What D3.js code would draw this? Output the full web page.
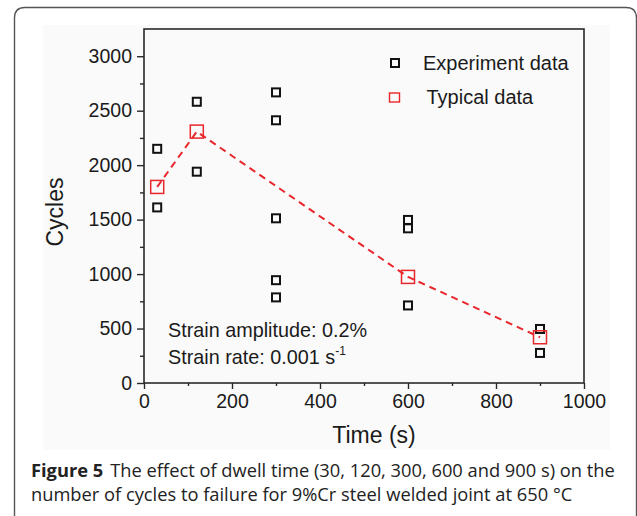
<!DOCTYPE html>
<html><head><meta charset="utf-8">
<script src="https://cdn.jsdelivr.net/npm/d3@7/dist/d3.min.js"></script>
<style>
html,body{margin:0;padding:0;background:#fff;}
svg{display:block;}
</style></head>
<body>
<script>
// ---- data ----
const expTime   = [30, 30, 120, 120, 300, 300, 300, 300, 300, 600, 600, 600, 900, 900];
const expCycles = [2150, 1612, 2582, 1940, 2668, 2412, 1512, 944, 786, 1497, 1420, 712, 496, 276];
const typTime   = [30, 120, 600, 900];
const typCycles = [1800, 2308, 974, 420];
const xTicks = [0, 200, 400, 600, 800, 1000];
const yTicks = [0, 500, 1000, 1500, 2000, 2500, 3000];
const legendLabels = ["Experiment data", "Typical data"];

const W = 637, H = 516;
const svg = d3.select("body").append("svg").attr("width", W).attr("height", H);

// card
svg.append("path")
  .attr("d", "M14.5,530 L14.5,18 Q14.5,7.5 25,7.5 L626,7.5 Q636.5,7.5 636.5,18 L636.5,530")
  .attr("fill", "none").attr("stroke", "#555").attr("stroke-width", 1.4);
// chart image background
svg.append("rect").attr("x", 43).attr("y", 25).attr("width", 567).attr("height", 425).attr("fill", "#fafafa");

const x = d3.scaleLinear().domain([0, 1000]).range([144, 584]);
const y = d3.scaleLinear().domain([0, 3250]).range([383, 29]);

const font = "Liberation Sans, Arial, sans-serif";
const axisColor = "#2a2a2a";

// minor ticks
const xMinor = d3.range(100, 1000, 200);
const yMinor = d3.range(250, 3250, 500);

const gx = svg.append("g").attr("transform", "translate(0,383)")
  .call(d3.axisBottom(x).tickValues(xTicks).tickSize(6).tickPadding(4).tickFormat(d3.format("d")));
const gxm = svg.append("g").attr("transform", "translate(0,383)")
  .call(d3.axisBottom(x).tickValues(xMinor).tickSize(3).tickFormat(""));
const gy = svg.append("g").attr("transform", "translate(144,0)")
  .call(d3.axisLeft(y).tickValues(yTicks).tickSize(7).tickPadding(5).tickFormat(d3.format("d")));
const gym = svg.append("g").attr("transform", "translate(144,0)")
  .call(d3.axisLeft(y).tickValues(yMinor).tickSize(4).tickFormat(""));
[gx, gxm, gy, gym].forEach(g => {
  g.select(".domain").remove();
  g.selectAll("line").attr("stroke", axisColor).attr("stroke-width", 1.4);
  g.selectAll("text").attr("font-family", font).attr("font-size", 19.5).attr("fill", "#1a1a1a");
});
gx.selectAll("text").attr("dy", "0.78em");

// frame
svg.append("rect").attr("x", 144).attr("y", 29).attr("width", 440).attr("height", 354)
  .attr("fill", "none").attr("stroke", axisColor).attr("stroke-width", 1.6);

// axis titles
svg.append("text").attr("x", 374).attr("y", 443).attr("text-anchor", "middle")
  .attr("font-family", font).attr("font-size", 23).attr("fill", "#1a1a1a").text("Time (s)");
svg.append("text").attr("transform", "translate(63,212) rotate(-90)").attr("text-anchor", "middle")
  .attr("font-family", font).attr("font-size", 23).attr("fill", "#1a1a1a").text("Cycles");

// typical line
const red = "#e8262b";
const typ = typTime.map((t, i) => [t, typCycles[i]]);
svg.append("path").datum(typ)
  .attr("d", d3.line().x(d => x(d[0])).y(d => y(d[1])))
  .attr("fill", "none").attr("stroke", red).attr("stroke-width", 2).attr("stroke-dasharray", "7,5");

// experiment markers
const exp = expTime.map((t, i) => [t, expCycles[i]]);
const es = 8;
svg.append("g").selectAll("rect").data(exp).join("rect")
  .attr("x", d => x(d[0]) - es / 2).attr("y", d => y(d[1]) - es / 2)
  .attr("width", es).attr("height", es)
  .attr("fill", "none").attr("stroke", "#111").attr("stroke-width", 2);

// typical markers
const ts = 13;
svg.append("g").selectAll("rect").data(typ).join("rect")
  .attr("x", d => x(d[0]) - ts / 2).attr("y", d => y(d[1]) - ts / 2)
  .attr("width", ts).attr("height", ts)
  .attr("fill", "none").attr("stroke", red).attr("stroke-width", 1.5);

// legend
svg.append("rect").attr("x", 391).attr("y", 59).attr("width", 8).attr("height", 8)
  .attr("fill", "none").attr("stroke", "#111").attr("stroke-width", 2);
svg.append("text").attr("x", 423).attr("y", 70).attr("font-family", font).attr("font-size", 20)
  .attr("fill", "#1a1a1a").text(legendLabels[0]);
svg.append("rect").attr("x", 389.5).attr("y", 93).attr("width", 10).attr("height", 9)
  .attr("fill", "none").attr("stroke", red).attr("stroke-width", 1.4);
svg.append("text").attr("x", 426.5).attr("y", 104).attr("font-family", font).attr("font-size", 20)
  .attr("fill", "#1a1a1a").text(legendLabels[1]);

// annotation
svg.append("text").attr("x", 168).attr("y", 337).attr("font-family", font).attr("font-size", 19.8)
  .attr("fill", "#1a1a1a").text("Strain amplitude: 0.2%");
const t2 = svg.append("text").attr("x", 168).attr("y", 364).attr("font-family", font).attr("font-size", 19.8)
  .attr("fill", "#1a1a1a");
t2.append("tspan").text("Strain rate: 0.001 s");
t2.append("tspan").attr("dy", -9).attr("font-size", 12).text("-1");

// caption
const cfont = "Open Sans, Noto Sans, sans-serif";
const c1 = svg.append("text").attr("x", 31).attr("y", 477).attr("font-family", cfont).attr("font-size", 18.3).attr("fill", "#222");
c1.append("tspan").attr("font-weight", "bold").text("Figure 5");
c1.append("tspan").attr("dx", 7).text("The effect of dwell time (30, 120, 300, 600 and 900 s) on the");
svg.append("text").attr("x", 31).attr("y", 501).attr("font-family", cfont).attr("font-size", 18.3).attr("fill", "#222")
  .text("number of cycles to failure for 9%Cr steel welded joint at 650 °C");
</script>
</body></html>
